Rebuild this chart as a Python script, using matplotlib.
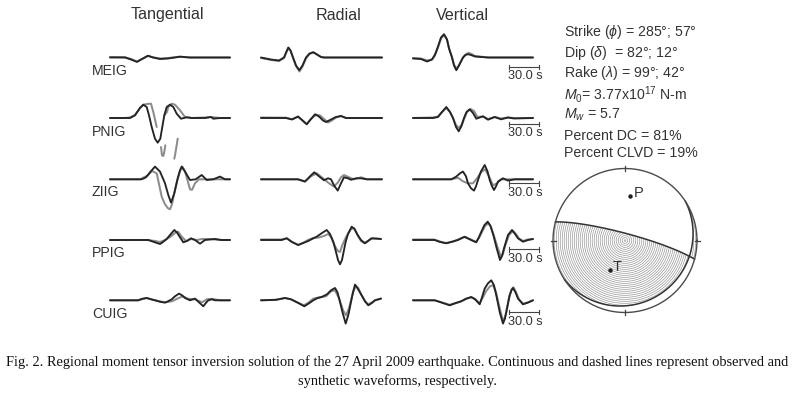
import numpy as np
import matplotlib
matplotlib.use("Agg")
import matplotlib.pyplot as plt

plt.rcParams['font.family'] = ['Liberation Sans', 'DejaVu Sans']
plt.rcParams['mathtext.fontset'] = 'custom'
plt.rcParams['mathtext.rm'] = 'Liberation Sans'
plt.rcParams['mathtext.it'] = 'Liberation Sans:italic'

# ---------------- data ----------------
stations = ["MEIG", "PNIG", "ZIIG", "PPIG", "CUIG"]
components = ["Tangential", "Radial", "Vertical"]
scale_bar_seconds = 30.0
scale_bar_label = "30.0 s"

# waveforms: (time [s], relative amplitude); None = gap in dashed synthetic
meig_tan_obs = [(0,0),(15,0),(21,-2),(27,-4.4),(32,-1.5),(38,1.8),(43,0),(50,-1.5),(58,-1),(70,0.8),(80,0),(120,0)]
meig_tan_syn = [(0,0.5),(15,0.3),(21,-1.5),(27,-4),(32,-1.5),(38,1.5),(43,0.2),(50,-1),(58,-0.5),(70,0.8),(80,0),(120,0)]
meig_rad_obs = [(0,0),(10,-2),(18,-3),(23,0),(25.5,6),(27.3,10),(29.5,7),(32,0),(35,-8),(38.3,-12.7),(41.5,-8),(45,0),(48.5,4),(52.3,5.3),(56,3),(60,0.5),(63,0),(121,0)]
meig_rad_syn = [(0,-0.5),(10,-2.5),(18,-3.5),(23,-0.5),(25.5,5.5),(27.5,9.5),(29.5,7),(32,0),(35,-8.5),(38.5,-14),(41.5,-9),(45,-1),(48.5,3.5),(52.5,5),(56,3),(60,0.5),(63,0),(121,0)]
meig_ver_obs = [(0,-1),(8,-1.5),(14,-4),(19,-2),(22,3),(25,11),(28,20),(31,23.3),(34,18),(36,9),(39,0),(41,-8),(43.3,-12.7),(46,-8),(50,0),(52.5,2.5),(55,3.3),(58,2.5),(62,1),(75,0),(120,0)]
meig_ver_syn = [(0,-0.5),(8,-1),(14,-3),(19,-2),(22,2),(25,10),(28,19),(31,22.5),(34,18),(36,9.5),(39,0.5),(41,-7),(43.5,-11.5),(46,-7.5),(50,0),(52.5,3),(55.5,4.7),(58.5,3.5),(62,1.5),(75,0),(120,0)]

pnig_tan_obs = [(0,0),(20,0),(25,2.7),(30,10),(33.3,13.3),(36.7,11),(39,2.7),(41.7,-9),(45,-20.7),(47.7,-24.7),(50.3,-20.7),(52.3,-9),(54.3,2.7),(56.7,11),(60,13.3),(63.3,11),(66.7,4.3),(71,-0.7),(76.7,0.7),(81.7,0),(95,0),(101,1),(103.3,-0.7),(110,0),(120,0)]
pnig_tan_syn = [(0,0),(15,0),(20,0.5),(25,3),(30,10),(33.3,13.3),(37,14),(41,14.3),(43.3,6),(46.7,-9),(None,None),
                (51,-29),(52,-37.3),(53.3,-38),(54.3,-34),(55.3,-27.3),(None,None),
                (64.3,-40.7),(65.3,-35.7),(67.7,-20.7),(None,None),
                (54.3,2.7),(57,6),(58.3,11),(61.7,14.3),(65,13.3),(70,7.7),(75,1),(81.7,0),(95,0.5),(101,1),(110,0),(120,0)]
pnig_rad_obs = [(0,0),(25,0),(31,-1.5),(37,1.5),(41,-2),(45.7,-6.3),(50,-1),(54,3.7),(58,1.5),(62,-2.5),(65,-4),(70,-1.5),(75,1),(80,2),(85,0),(121,0)]
pnig_rad_syn = [(0,0.5),(25,0.3),(31,-1.2),(37,1.2),(41,-2),(45.7,-6),(50,-1),(55,3.3),(59,2.5),(63,-1),(67,-4.5),(70,-3),(75,0.5),(80,2),(85,0),(121,0)]
pnig_ver_obs = [(0,0),(20,0),(25,1),(29,6),(33.3,11),(37,6),(40,0),(43,-9),(45.7,-13.3),(48.5,-8),(51,0),(53.5,6),(56.7,8.7),(60,5),(63.3,-0.7),(70,1.7),(75,-1.7),(81.7,1),(88,-1.3),(95,0.5),(101,-0.5),(120,0)]
pnig_ver_syn = [(0,0),(20,0.5),(25,1.5),(29,6),(33.3,10),(37,6),(40,0),(43,-7),(46,-10),(49,-6),(51.5,0),(54,6),(57.5,9),(61,7),(64.5,1),(70,1.5),(75,-1),(81.7,1),(88,-0.5),(95,0.5),(101,0),(120,0)]

ziig_tan_obs = [(0,0),(31.7,0),(36,2),(40,7),(45,12.7),(50,7.7),(55,-4),(58.3,-15.7),(61,-23.3),(64.3,-14),(67.7,1),(70,9),(71.7,12.7),(75,7.7),(80,-0.7),(85.7,0),(91.7,4.3),(96.7,-0.7),(103.3,0),(110,2.7),(115,0),(120,0)]
ziig_tan_syn = [(0,0),(30,0),(38,4),(42,8.5),(44.5,7),(46.7,6),(51.7,-17.4),(55,-25),(58,-29),(60,-30),(62,-25),(64,-15),(67,-2),(70,8),(72.3,12.7),(75,8),(80,-10),(82,-10.5),(85,-4),(89,0),(120,0)]
ziig_rad_obs = [(0,0),(37,0),(44,-2.3),(50,4),(53.3,7),(58,3),(63,-1),(67,1),(70,0),(73,-6),(76.7,-11.3),(80,-4),(83,2),(87,1),(90,-0.5),(95,1),(100,1),(106,0),(121,0)]
ziig_rad_syn = [(0,0),(37,0),(44,-2),(50,3),(55.7,6),(62,1),(68,-4),(73,-7.3),(77,-3),(80,2),(83,4.3),(88,2),(93,0),(100,2),(106,0),(121,0)]
ziig_ver_obs = [(0,0),(38.3,0),(43,2.5),(47,6),(50,7.7),(53,3),(55,-4),(58,-9),(61,-11.3),(63,-7),(65,-0.7),(68,8),(71.7,14.3),(74.5,8),(76.7,-0.7),(79,-7),(81,-10.7),(83,-7),(85,-2.3),(90,1),(95,-1.3),(101.7,0),(120,0)]
ziig_ver_syn = [(0,0),(38,0),(45,1.5),(50,-2),(55,-4),(60,-4),(64,1),(68,7),(72,10),(76,3),(80,-6),(84,-4),(88,0),(100,0),(120,0)]

ppig_tan_obs = [(0,0),(38.3,0),(44,-2),(50,-4),(53,-2),(56.7,1),(60,5),(64.3,10),(67,7.5),(69,4.3),(73.3,-2.3),(77,-1),(81,1.7),(85,0),(90,-3.7),(95,0),(105,1),(111.7,0),(120,0)]
ppig_tan_syn = [(0,0),(38,0),(45,-1),(50,-2),(55,0),(60,3),(65,7),(68,8.3),(72,3),(76,-1),(81,1),(87,0),(92,1),(100,1),(110,0),(120,0)]
ppig_rad_obs = [(0,0),(20.7,0),(25.7,1.7),(31,-2),(37.3,-5),(42,-3),(47.3,-1),(51,1),(55.7,3.3),(61,7),(65.7,10),(69,6),(72.3,-1.7),(75,-12),(77,-20),(79,-24.3),(81,-20),(83,-10),(84.7,-1.7),(87,6),(90.7,13.3),(93.5,11),(96.7,5),(100,0),(104,-3.3),(107,-1),(110.7,1.7),(115,1.5),(120,1)]
ppig_rad_syn = [(0,0.5),(20,0.5),(26,1.7),(31,-2),(37,-5),(42,-3),(47,0),(52,2),(58,2.5),(63,4),(67,6),(70,3),(72,-2),(75,-8),(77,-11),(79,-12),(81,-6),(85,3),(90,11),(93,12),(97,4),(100,-1),(103,-3),(107,-1),(110,1.5),(120,1)]
ppig_ver_obs = [(0,0),(21.7,0),(27,-2),(33.3,-3.3),(40,-1.5),(45,0),(51.7,3.3),(58,0),(63.3,-2.3),(66,3),(68.3,8.3),(71.5,15),(74.7,18.3),(77.5,14),(80.3,5),(83.7,-8.3),(87,-20),(89,-16),(91,-8.3),(95,5),(99,10),(102,6),(105,1.7),(110,-1.7),(115,0),(120,1)]
ppig_ver_syn = [(0,0.5),(21,0.5),(27,-1.5),(33,-3),(40,-1.5),(45,0.5),(51,3),(58,0.5),(63,-2),(66,2),(69,8),(72,14),(75.5,17),(78,13),(81,4),(84.5,-7),(88,-17),(90,-14),(92,-6),(96,5),(100,9),(103,6),(106,1.5),(110,-1),(115,0.5),(120,1)]

cuig_tan_obs = [(0,0),(28.3,0),(32,1.5),(36.7,2.3),(41,1),(45,0),(50,-1.5),(55,-2.3),(58,-1),(61.7,1),(65,4),(69,6.7),(72,5),(75,2.3),(80,0),(85,1.7),(89,-2),(93.3,-6),(96,-2.5),(98.3,0),(101.7,1),(105,0),(120,0)]
cuig_tan_syn = [(0,0),(28,0),(36.7,2.3),(45,0),(55,-2),(62,-1),(68,2),(73,4),(78,1.5),(85,1),(92,-2),(97,1),(102,1.5),(110,0),(120,0)]
cuig_rad_obs = [(0,0),(15,0.5),(24,2.3),(30,1),(36,-2),(43.3,-6),(48,-3),(52.3,0),(56,2),(60.7,3.3),(66,6),(70,10),(74,12.3),(76.5,8),(79,-1.7),(81.5,-12),(84.7,-23.3),(87.5,-14),(90,-1.7),(92,8),(94,15.7),(96.5,12),(100.7,5),(104,-1),(107.3,-5),(110.5,-3),(114,0),(120,1.7)]
cuig_rad_syn = [(0,0),(15,0.5),(24,2.3),(30,1),(36,-2),(43,-5),(48,-2),(52,1.5),(58,3),(65,4),(70,9),(74,10),(78,2),(82,-10),(85,-15),(88,-8),(92,8),(95,14.5),(97.5,12),(100,6),(104,-1),(107,-4),(111,-2),(114,0),(120,1.7)]
cuig_ver_obs = [(0,0),(21.7,0),(28,-2),(36.7,-5),(42,-3),(48.3,-1),(53,1.5),(58.3,3.3),(62,1),(66.7,-4),(69,3),(71.7,11.7),(75,17),(78.3,20),(81,15),(83.3,5),(86.7,-11.7),(90,-23.3),(92,-18),(94,-8.3),(96.7,5),(98.5,10),(100,12.3),(102.5,8),(105,1.7),(110,-4),(115,-2.3),(120,0)]
cuig_ver_syn = [(0,0),(21.7,0),(28,-2),(36.7,-4.5),(42,-3),(48,-1),(53,1.5),(58,3),(62,1.5),(66.7,-3),(70,3),(73,9),(77,14),(80,15),(83,8),(86,-5),(89,-17),(91,-20),(93,-13),(96,3),(98.5,11),(100.5,13),(103,8),(106,1),(110,-3.5),(115,-2),(120,0)]

observed = [[meig_tan_obs, meig_rad_obs, meig_ver_obs],
            [pnig_tan_obs, pnig_rad_obs, pnig_ver_obs],
            [ziig_tan_obs, ziig_rad_obs, ziig_ver_obs],
            [ppig_tan_obs, ppig_rad_obs, ppig_ver_obs],
            [cuig_tan_obs, cuig_rad_obs, cuig_ver_obs]]
synthetic = [[meig_tan_syn, meig_rad_syn, meig_ver_syn],
             [pnig_tan_syn, pnig_rad_syn, pnig_ver_syn],
             [ziig_tan_syn, ziig_rad_syn, ziig_ver_syn],
             [ppig_tan_syn, ppig_rad_syn, ppig_ver_syn],
             [cuig_tan_syn, cuig_rad_syn, cuig_ver_syn]]

# focal mechanism
strike = [285, 57]
dip = [82, 12]
rake = [99, 42]
P_axis = (7, 38)     # azimuth, plunge (deg)
T_axis = (207, 52)
param_lines = [r"Strike ($\phi$) = 285°; 57°",
               r"Dip ($\delta$)  = 82°; 12°",
               r"Rake ($\lambda$) = 99°; 42°",
               r"$M_0$= 3.77x10$^{17}$ N-m",
               r"$M_w$ = 5.7",
               "Percent DC = 81%",
               "Percent CLVD = 19%"]
caption = ["Fig. 2. Regional moment tensor inversion solution of the 27 April 2009 earthquake. Continuous and dashed lines represent observed and",
           "synthetic waveforms, respectively."]

# ---------------- layout ----------------
fig = plt.figure(figsize=(7.95, 4.0), dpi=100)
ax = fig.add_axes([0, 0, 1, 1])
ax.set_xlim(0, 795)
ax.set_ylim(400, 0)
ax.axis('off')

col_x0 = [110, 261, 413]
title_x = [167, 339, 462]
row_base = [57.5, 118, 179.3, 240, 300.3]
label_y = [71, 132, 192.3, 253, 314]
bar_y = [66.7, 124, 183.3, 249.3, 312]
bar_text_y = [76, 133.5, 193.3, 259, 322]
px_per_s = 1.0
txt_col = '#333333'

for c, name in enumerate(components):
    ax.text(title_x[c], 15, name, ha='center', va='center', fontsize=11.6, color=txt_col)

for r, st in enumerate(stations):
    ax.text(92, label_y[r], st, ha='left', va='center', fontsize=10.2, color=txt_col)
    for c in range(3):
        s = np.array(synthetic[r][c], dtype=float)
        o = np.array(observed[r][c], dtype=float)
        ax.plot(col_x0[c] + s[:, 0] * px_per_s, row_base[r] - s[:, 1], color='#8c8c8c', lw=1.45,
                solid_capstyle='round', solid_joinstyle='round')
        ax.plot(col_x0[c] + o[:, 0] * px_per_s, row_base[r] - o[:, 1], color='#242424', lw=1.35,
                solid_capstyle='round', solid_joinstyle='round')
    # scale bar
    bx0 = 509.3
    bx1 = bx0 + scale_bar_seconds * px_per_s
    ax.plot([bx0, bx1], [bar_y[r], bar_y[r]], color='#444444', lw=0.8)
    for bx in (bx0, bx1):
        ax.plot([bx, bx], [bar_y[r] - 2.2, bar_y[r] + 2.2], color='#444444', lw=0.8)
    ax.text((bx0 + bx1) / 2 + 1, bar_text_y[r], scale_bar_label, ha='center', va='center',
            fontsize=9.2, color=txt_col)

# parameters text
param_y = [31.7, 52.7, 73.3, 94.3, 115, 135.7, 152.7]
for y, t in zip(param_y, param_lines):
    ax.text(564, y, t, ha='left', va='center', fontsize=10.2, color=txt_col)

# ---------------- beach ball ----------------
cx, cy, R = 625.0, 240.5, 72.0

def dc_tensor(phi, delta, lam):
    f, d, l = np.radians([phi, delta, lam])
    Mxx = -(np.sin(d) * np.cos(l) * np.sin(2 * f) + np.sin(2 * d) * np.sin(l) * np.sin(f) ** 2)
    Myy = np.sin(d) * np.cos(l) * np.sin(2 * f) - np.sin(2 * d) * np.sin(l) * np.cos(f) ** 2
    Mzz = np.sin(2 * d) * np.sin(l)
    Mxy = np.sin(d) * np.cos(l) * np.cos(2 * f) + 0.5 * np.sin(2 * d) * np.sin(l) * np.sin(2 * f)
    Mxz = -(np.cos(d) * np.cos(l) * np.cos(f) + np.cos(2 * d) * np.sin(l) * np.sin(f))
    Myz = -(np.cos(d) * np.cos(l) * np.sin(f) - np.cos(2 * d) * np.sin(l) * np.cos(f))
    return np.array([[Mxx, Mxy, Mxz], [Mxy, Myy, Myz], [Mxz, Myz, Mzz]])

M = dc_tensor(strike[0], dip[0], rake[0])
gx, gy = np.meshgrid(np.linspace(cx - R, cx + R, 700), np.linspace(cy - R, cy + R, 700))
dx = gx - cx
dn = -(gy - cy)
rho = np.hypot(dx, dn)
inside = rho <= R
inc = 2 * np.arcsin(np.clip(rho / (R * np.sqrt(2)), 0, 1))
az = np.arctan2(dx, dn)
g = np.stack([np.sin(inc) * np.cos(az), np.sin(inc) * np.sin(az), np.cos(inc)])
amp = np.einsum('i...,ij,j...->...', g, M, g)
Z = np.where(inside & (amp > 0), rho, np.nan)
ax.contour(gx, gy, Z, levels=np.arange(0.8, R, 2.0), colors='#8f8f8f', linewidths=0.45)

def plane_curve(phi, delta):
    # lower-hemisphere equal-area trace of a plane
    f, d = np.radians(phi), np.radians(delta)
    t = np.linspace(0, np.pi, 300)
    s = np.array([np.cos(f), np.sin(f), 0.0])
    ddir = np.array([np.cos(d) * np.cos(f + np.pi / 2), np.cos(d) * np.sin(f + np.pi / 2), np.sin(d)])
    v = np.outer(np.cos(t), s) + np.outer(np.sin(t), ddir)
    i = np.arccos(np.clip(v[:, 2], -1, 1))
    a = np.arctan2(v[:, 1], v[:, 0])
    rr = R * np.sqrt(2) * np.sin(i / 2)
    return cx + rr * np.sin(a), cy - rr * np.cos(a)

for k in range(2):
    px, py = plane_curve(strike[k], dip[k])
    ax.plot(px, py, color='#333333', lw=1.1)

th = np.linspace(0, 2 * np.pi, 400)
ax.plot(cx + R * np.cos(th), cy + R * np.sin(th), color='#4a4a4a', lw=1.0)
for a in (0, 90, 180, 270):
    ra = np.radians(a)
    ax.plot([cx + (R - 2.5) * np.sin(ra), cx + (R + 2.5) * np.sin(ra)],
            [cy - (R - 2.5) * np.cos(ra), cy - (R + 2.5) * np.cos(ra)], color='#444444', lw=0.9)

for lab, (a_, pl) in (("P", P_axis), ("T", T_axis)):
    i = np.radians(90 - pl)
    rr = R * np.sqrt(2) * np.sin(i / 2)
    x = cx + rr * np.sin(np.radians(a_))
    y = cy - rr * np.cos(np.radians(a_))
    ax.plot(x, y, 'o', color='#222222', ms=2.2)
    ax.text(x + 3, y - 3.5, lab, ha='left', va='center', fontsize=10.5, color=txt_col)

# caption
ax.text(397.5, 362.5, caption[0], ha='center', va='center', fontsize=10.4,
        family=['Liberation Serif', 'DejaVu Serif'], color='#111111')
ax.text(397.5, 381, caption[1], ha='center', va='center', fontsize=10.4,
        family=['Liberation Serif', 'DejaVu Serif'], color='#111111')

fig.savefig("out.png", dpi=100)
